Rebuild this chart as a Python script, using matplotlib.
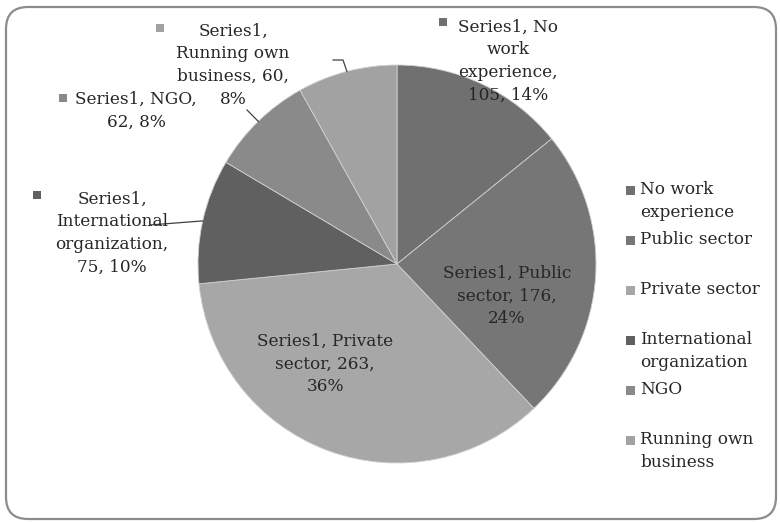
import matplotlib.pyplot as plt
from matplotlib.patches import FancyBboxPatch, Rectangle
import numpy as np

categories = ["No work experience", "Public sector", "Private sector",
              "International organization", "NGO", "Running own business"]
counts = [105, 176, 263, 75, 62, 60]
percents = [14, 24, 36, 10, 8, 8]
series_name = "Series1"
legend_labels = ["No work\nexperience", "Public sector", "Private sector",
                 "International\norganization", "NGO", "Running own\nbusiness"]

colors = ["#707070", "#767676", "#a7a7a7", "#606060", "#8a8a8a", "#a2a2a2"]
text_color = "#262626"

# how Excel wrapped each data label
label_fmt = [
    "{s}, No\nwork\nexperience,\n{v}, {p}%",
    "{s}, Public\nsector, {v},\n{p}%",
    "{s}, Private\nsector, {v},\n{p}%",
    "{s},\nInternational\norganization,\n{v}, {p}%",
    "{s}, NGO,\n{v}, {p}%",
    "{s},\nRunning own\nbusiness, {v},\n{p}%",
]

W, H = 780, 522
CX, CY, R = 397, 264, 199          # pie centre / radius in pixels (top origin)
# label centre (x, y) in pixels, top origin
label_pos = [(508, 61), (507, 296), (325, 364), (112, 233), (136, 111), (233, 65)]
# marker square for labels sitting outside the pie (None = inside)
marker_pos = [(443, 22), None, None, (37, 195), (63, 98), (160, 28)]
# start of leader line at the label side
leader_start = [None, None, None, [(150, 225)], [(247, 110)], [(333, 60), (343, 60)]]

FONT = "DejaVu Serif"
FS = 12.2
LS = 1.44


def py(y):
    return H - y


fig = plt.figure(figsize=(W / 100, H / 100), dpi=100)
ax = fig.add_axes([0, 0, 1, 1])

wedges, _ = ax.pie(counts, colors=colors, startangle=90, counterclock=False,
                   center=(CX, py(CY)), radius=R,
                   wedgeprops=dict(edgecolor="#d0d0d0", linewidth=0.6))
ax.set_xlim(0, W)
ax.set_ylim(0, H)
ax.set_aspect("auto")
ax.axis("off")

# outer rounded frame
ax.add_patch(FancyBboxPatch((6, py(519)), 770, 512, boxstyle="round,pad=0,rounding_size=22",
                            fill=False, edgecolor="#8c8c8c", linewidth=1.6))

total = sum(counts)
cum = np.cumsum([0] + counts)
for i, cat in enumerate(categories):
    txt = label_fmt[i].format(s=series_name, v=counts[i], p=percents[i])
    lx, ly = label_pos[i]
    ax.text(lx, py(ly), txt, ha="center", va="center", multialignment="center",
            fontsize=FS, family=FONT, color=text_color, linespacing=LS)
    if marker_pos[i] is not None:
        mx, my = marker_pos[i]
        ax.add_patch(Rectangle((mx - 4, py(my) - 4), 8, 8, color=colors[i], lw=0))
    if leader_start[i] is not None:
        mid = (cum[i] + cum[i + 1]) / 2 / total * 2 * np.pi
        ex = CX + R * np.sin(mid)
        ey = CY - R * np.cos(mid)
        pts = leader_start[i] + [(ex, ey)]
        ax.plot([p[0] for p in pts], [py(p[1]) for p in pts], color="#404040", lw=0.9)

# legend on the right, Excel style
for i, lab in enumerate(legend_labels):
    y = 190 + 50 * i
    ax.add_patch(Rectangle((626, py(y) - 4.5), 9, 9, color=colors[i], lw=0))
    ax.text(640, py(y - 9), lab, ha="left", va="top", fontsize=FS, family=FONT,
            color=text_color, linespacing=LS)

fig.savefig("out.png", dpi=100)
